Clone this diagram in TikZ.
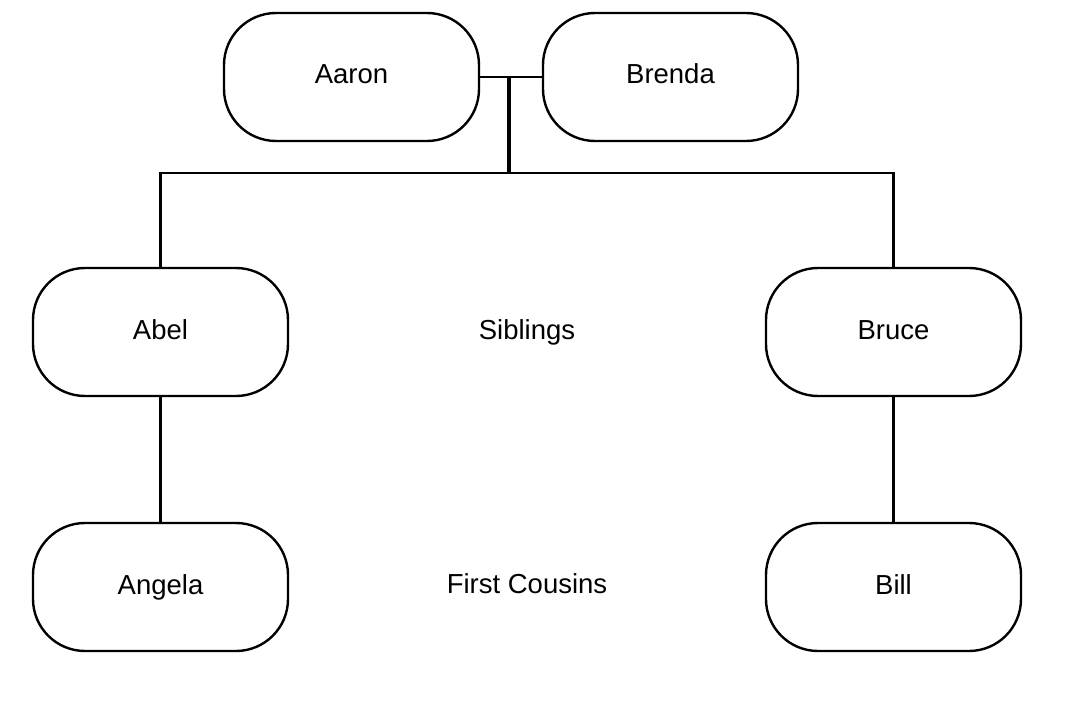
\documentclass[tikz,border=0pt]{standalone}
\usepackage{fontspec}
\setmainfont{Liberation Sans}
\begin{document}
\begin{tikzpicture}[x=1pt,y=-1pt,
  person/.style={draw=black,line width=2.4pt,rounded corners=52pt,minimum width=255pt,minimum height=128pt,inner sep=0pt,text height=14pt,text depth=0pt,font=\fontsize{27.5}{32}\selectfont,fill=white},
  label/.style={font=\fontsize{27.5}{32}\selectfont,inner sep=0pt,anchor=base},
  link/.style={line width=2.4pt}]
\useasboundingbox[fill=white] (0,0) rectangle (1072,725);
\node[person] (aaron) at (351.5,77) {Aaron};
\node[person] (brenda) at (670.5,77) {Brenda};
\node[person] (abel) at (160.5,332) {Abel};
\node[person] (bruce) at (893.5,332) {Bruce};
\node[person] (angela) at (160.5,587) {Angela};
\node[person] (bill) at (893.5,587) {Bill};
\node[label] (sib) at (527,339) {Siblings};
\node[label] (fc) at (527,593) {First Cousins};
\coordinate (m) at (509,77);
\coordinate (j) at (509,173);
\draw[link] (aaron.east) -- (brenda.west);
\draw[line width=4pt] (m) -- (j);
\draw[link] (abel.north) |- (j) -| (bruce.north);
\draw[link] (abel) -- (angela);
\draw[link] (bruce) -- (bill);
\end{tikzpicture}
\end{document}
